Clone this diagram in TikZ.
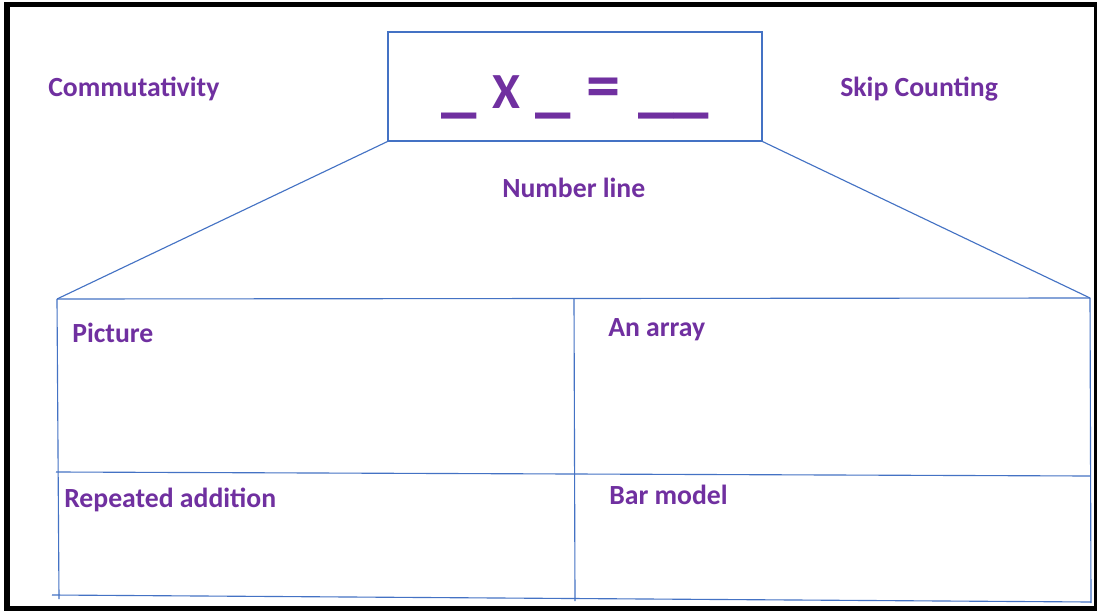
\documentclass[tikz,border=0pt]{standalone}
\usepackage{fontspec}
\setmainfont{Carlito}
\usetikzlibrary{positioning}
\definecolor{topicpurple}{RGB}{112,48,160}
\definecolor{lineblue}{RGB}{68,114,196}
\newcommand{\blank}[1]{\scalebox{1.4}[1.5]{#1}}

\begin{document}
\begin{tikzpicture}[x=0.025cm, y=-0.025cm,
    topic/.style={anchor=base west, inner sep=0pt, font=\fontsize{19.7}{22}\selectfont\bfseries, text=topicpurple},
    eqbox/.style={draw=lineblue, line width=0.8pt, minimum width=9.35cm, minimum height=2.725cm, inner sep=0pt},
    gridline/.style={lineblue, line width=0.8pt}
]
\useasboundingbox (0,0) rectangle (1097,611);
% Frame
\fill[black] (4,2) rectangle (1097,611);
\fill[white] (10,7) rectangle (1094,606);

% Equation box
\node[eqbox] (eq) at (575,86.5) {};
\node[anchor=base west, inner sep=0pt, font=\fontsize{36}{40}\selectfont\bfseries, text=topicpurple] (eqtext) at (441,109)
    {\blank{\_}\hspace{11pt}X\hspace{11pt}\blank{\_}\hspace{11pt}\scalebox{1.35}{=}\hspace{13pt}\blank{\_\_}};

% Grid corners
\coordinate (gridTL) at (57,299);
\coordinate (gridTR) at (1090,298);
\coordinate (gridTM) at (574,299);
\coordinate (gridML) at (56,472);
\coordinate (gridMR) at (1090,476);
\coordinate (gridBL) at (52,595);
\coordinate (gridBR) at (1091,602);
\coordinate (gridBM) at (575,601);
\coordinate (gridLB) at (59,599);
\coordinate (gridRB) at (1091,603);

% Trapezoid sides
\draw[gridline] (eq.south west) -- (gridTL);
\draw[gridline] (eq.south east) -- (gridTR);

% Grid
\draw[gridline] (gridTL) -- (gridTR);
\draw[gridline] (gridTL) -- (gridLB);
\draw[gridline] (gridTR) -- (gridRB);
\draw[gridline] (gridTM) -- (gridBM);
\draw[gridline] (gridML) -- (gridMR);
\draw[gridline] (gridBL) -- (gridBR);

% Labels
\node[topic] (comm) at (48,96) {Commutativity};
\node[topic] (skip) at (840,96) {Skip Counting};
\node[topic] (numline) at (502,197) {Number line};
\node[topic] (picture) at (72,342) {Picture};
\node[topic] (array) at (608,336) {An array};
\node[topic] (repeated) at (64,507) {Repeated addition};
\node[topic] (bar) at (609,504) {Bar model};

\end{tikzpicture}
\end{document}
